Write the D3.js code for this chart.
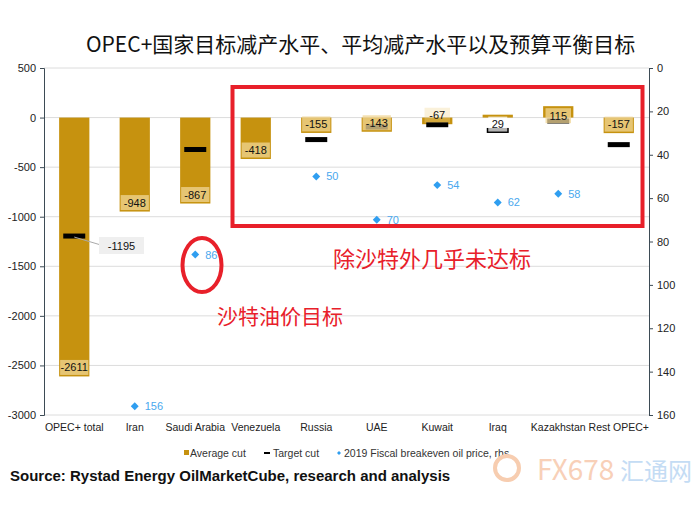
<!DOCTYPE html>
<html><head><meta charset="utf-8">
<script src="https://cdn.jsdelivr.net/npm/d3@7"></script>
<style>body{margin:0;background:#fff}svg{display:block}</style>
</head><body>
<svg id="c" width="700" height="509"></svg>
<script>
const categories = ["OPEC+ total","Iran","Saudi Arabia","Venezuela","Russia","UAE","Kuwait","Iraq","Kazakhstan","Rest OPEC+"];
const averageCut = [-2611,-948,-867,-418,-155,-143,-67,29,115,-157];
const targetCut = [-1195,null,-322,null,-222,-95,-72,-130,-35,-273];
const breakeven = [null,156,86,null,50,70,54,62,58,null];
const leftTicks = [500,0,-500,-1000,-1500,-2000,-2500,-3000];
const rightTicks = [0,20,40,60,80,100,120,140,160];

const svg = d3.select("#c");
const L = 44, R = 649, T = 68, B = 415;
const x = d3.scaleBand().domain(categories).range([L, R]).paddingInner(0.5).paddingOuter(0.25);
const y = d3.scaleLinear().domain([-3000, 500]).range([B, T]);
const y2 = d3.scaleLinear().domain([0, 160]).range([T, B]);
const font = "Liberation Sans, Arial, sans-serif";
const cjk = "'Noto Sans CJK SC', sans-serif";
const gold = "#C6920F";

// grid
svg.append("g").selectAll("line").data(leftTicks).join("line")
  .attr("x1", L).attr("x2", R).attr("y1", d => y(d)).attr("y2", d => y(d))
  .attr("stroke", "#dcdcdc").attr("stroke-width", 1);

// axes
const axL = svg.append("g").attr("transform", `translate(${L},0)`)
  .call(d3.axisLeft(y).tickValues(leftTicks).tickFormat(d => String(d)).tickSize(4).tickPadding(4));
const axR = svg.append("g").attr("transform", `translate(${R},0)`)
  .call(d3.axisRight(y2).tickValues(rightTicks).tickFormat(d => String(d)).tickSize(4).tickPadding(4));
[axL, axR].forEach(a => {
  a.select(".domain").attr("stroke", "#3d4b55");
  a.selectAll(".tick line").attr("stroke", "#3d4b55");
  a.selectAll("text").attr("font-family", font).attr("font-size", 11).attr("fill", "#222");
});
const axX = svg.append("g").attr("transform", `translate(0,${B})`)
  .call(d3.axisBottom(x).tickSize(0).tickPadding(9));
axX.select(".domain").remove();
axX.selectAll("text").attr("font-family", font).attr("font-size", 10.5).attr("fill", "#222");

// bars
svg.append("g").selectAll("rect").data(categories).join("rect")
  .attr("x", d => x(d)).attr("width", x.bandwidth())
  .attr("y", (d, i) => y(Math.max(0, averageCut[i])))
  .attr("height", (d, i) => Math.abs(y(averageCut[i]) - y(0)))
  .attr("fill", gold);

// target markers
const tgt = categories.map((c, i) => ({c, v: targetCut[i]})).filter(d => d.v !== null);
svg.append("g").selectAll("rect").data(tgt).join("rect")
  .attr("x", d => x(d.c) + x.bandwidth() / 2 - 11).attr("width", 22)
  .attr("y", d => y(d.v) - 2.5).attr("height", 5).attr("fill", "#000");

// bar value labels
const lbl = svg.append("g");
categories.forEach((c, i) => {
  const v = averageCut[i];
  let cy;
  if (v < 0) cy = y(v) - 9; else cy = y(v) + 9.5;
  if (c === "Iraq") cy = y(0) + 6.5;
  const txt = String(v);
  const w = Math.min(x.bandwidth() - 2, txt.length * 6.5 + 6);
  let fill = "rgba(240,214,150,0.75)";
  if (c === "Iraq") fill = "rgba(255,255,255,0.7)";
  if (c === "Kuwait") fill = "rgba(240,214,150,0.35)";
  lbl.append("rect").attr("x", x(c) + x.bandwidth() / 2 - w / 2).attr("y", cy - 7.5)
    .attr("width", w).attr("height", 15).attr("fill", fill);
  lbl.append("text").attr("x", x(c) + x.bandwidth() / 2).attr("y", cy + 4)
    .attr("text-anchor", "middle").attr("font-family", font).attr("font-size", 11)
    .attr("fill", "#111").text(txt);
});

// -1195 callout
{
  const c = categories[0], v = targetCut[0];
  const mx = x(c) + x.bandwidth() / 2, my = y(v);
  svg.append("line").attr("x1", mx).attr("y1", my + 1).attr("x2", 101).attr("y2", my + 9)
    .attr("stroke", "#aaa").attr("stroke-width", 1);
  svg.append("rect").attr("x", 99).attr("y", my + 1).attr("width", 45).attr("height", 17).attr("fill", "#efefef");
  svg.append("text").attr("x", 121.5).attr("y", my + 14).attr("text-anchor", "middle")
    .attr("font-family", font).attr("font-size", 11).attr("fill", "#111").text(v);
}

// breakeven diamonds
const be = categories.map((c, i) => ({c, v: breakeven[i]})).filter(d => d.v !== null);
const dg = svg.append("g");
be.forEach(d => {
  const cx = x(d.c) + x.bandwidth() / 2, cy = y2(d.v);
  dg.append("path").attr("d", d3.symbol(d3.symbolDiamond2, 40)())
    .attr("transform", `translate(${cx},${cy})`).attr("fill", "#2f9ef0");
  dg.append("text").attr("x", cx + 10).attr("y", cy + 4).attr("font-family", font)
    .attr("font-size", 11).attr("fill", "#4aa8ee").text(d.v);
});

// title
svg.append("text").attr("x", 86).attr("y", 52)
  .attr("font-family", cjk).attr("font-size", 21).attr("fill", "#111")
  .text("OPEC+国家目标减产水平、平均减产水平以及预算平衡目标");

// legend
const lg = svg.append("g").attr("font-family", font).attr("font-size", 10.5).attr("fill", "#333");
lg.append("rect").attr("x", 184).attr("y", 450).attr("width", 5).attr("height", 5).attr("fill", gold);
lg.append("text").attr("x", 190).attr("y", 457).text("Average cut");
lg.append("rect").attr("x", 264).attr("y", 452).attr("width", 6).attr("height", 2).attr("fill", "#000");
lg.append("text").attr("x", 273).attr("y", 457).text("Target cut");
lg.append("path").attr("d", d3.symbol(d3.symbolDiamond2, 10)()).attr("transform", "translate(339,453)").attr("fill", "#2f9ef0");
lg.append("text").attr("x", 344).attr("y", 457).text("2019 Fiscal breakeven oil price, rhs");

// source
svg.append("text").attr("x", 10).attr("y", 481).attr("font-family", font).attr("font-weight", "bold")
  .attr("font-size", 15).attr("fill", "#111").text("Source: Rystad Energy OilMarketCube, research and analysis");

// watermark
svg.append("circle").attr("cx", 507).attr("cy", 468).attr("r", 12).attr("fill", "none").attr("stroke", "#f7cdb0").attr("stroke-width", 4);
svg.append("text").attr("x", 537).attr("y", 480).attr("font-family", cjk).attr("font-size", 28)
  .attr("fill", "#f8d0b8").text("FX678");
svg.append("text").attr("x", 620).attr("y", 480).attr("font-family", cjk).attr("font-size", 24)
  .attr("fill", "#c4dcf4").text("汇通网");

// red annotations
const red = "#e8202a";
svg.append("rect").attr("x", 232.5).attr("y", 87).attr("width", 410).attr("height", 139)
  .attr("fill", "none").attr("stroke", red).attr("stroke-width", 4);
svg.append("ellipse").attr("cx", 202).attr("cy", 265).attr("rx", 19.5).attr("ry", 27)
  .attr("fill", "none").attr("stroke", red).attr("stroke-width", 4);
svg.append("text").attr("x", 333).attr("y", 267).attr("font-family", cjk)
  .attr("font-size", 22).attr("fill", red).text("除沙特外几乎未达标");
svg.append("text").attr("x", 217).attr("y", 324).attr("font-family", cjk)
  .attr("font-size", 21).attr("fill", red).text("沙特油价目标");
</script>
</body></html>
